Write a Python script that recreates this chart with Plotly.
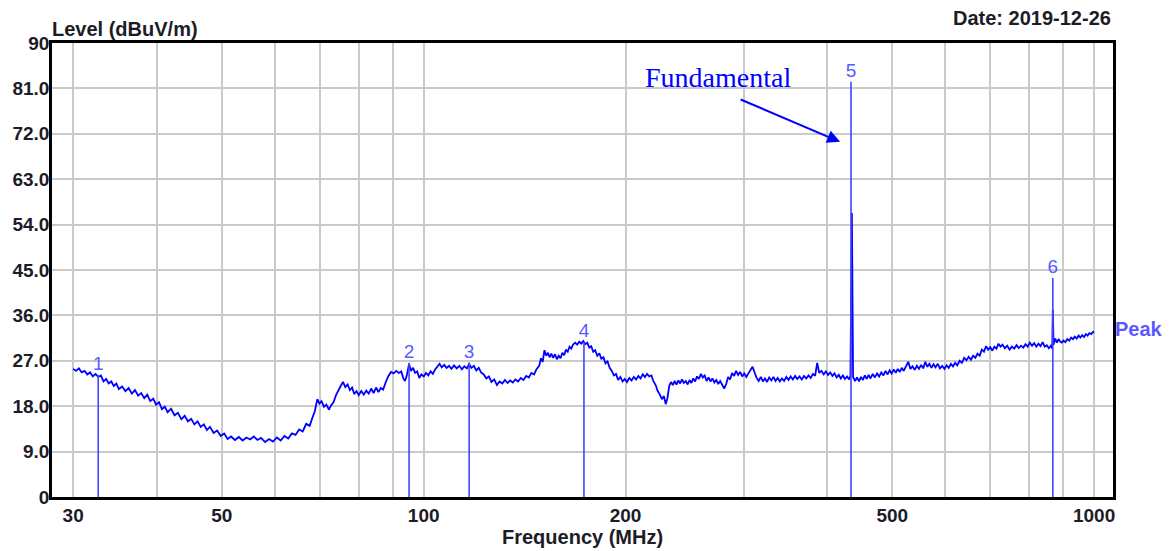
import math
import plotly.graph_objects as go

# ---------------- data ----------------
freq_mhz = [
    30.0, 30.3, 30.6, 30.9, 31.2, 31.5, 31.8, 32.1, 32.4, 32.7, 33.0, 33.3, 33.6, 33.9, 34.2, 34.5, 34.8, 35.1,
    35.5, 35.9, 36.3, 36.7, 37.1, 37.5, 37.9, 38.3, 38.7, 39.1, 39.5, 39.9, 40.3, 40.7, 41.1, 41.5, 42.0, 42.5,
    43.0, 43.5, 44.0, 44.5, 45.0, 45.5, 46.0, 46.5, 47.0, 47.5, 48.0, 48.6, 49.2, 49.8, 50.4, 51.0, 51.6, 52.3,
    53.0, 53.7, 54.4, 55.1, 55.8, 56.5, 57.2, 58.0, 58.8, 59.6, 60.4, 61.2, 62.0, 62.8, 63.6, 64.4, 65.2, 66.0,
    66.8, 67.6, 68.2, 68.8, 69.4, 69.9, 70.4, 71.0, 71.6, 72.2, 72.8, 73.4, 74.0, 74.6, 75.2, 75.8, 76.4, 77.0,
    77.6, 78.2, 78.8, 79.4, 80.0, 80.7, 81.4, 82.1, 82.8, 83.5, 84.2, 84.9, 85.6, 86.3, 87.0, 87.8, 88.6, 89.4,
    90.2, 91.0, 91.8, 92.6, 93.2, 93.8, 94.4, 95.1, 95.7, 96.4, 97.1, 97.8, 98.5, 99.2, 100.0, 100.8, 101.6, 102.4,
    103.2, 104.0, 104.8, 105.6, 106.4, 107.3, 108.2, 109.1, 110.0, 111.0, 112.0, 113.0, 114.0, 115.0, 116.0, 116.9,
    117.8, 118.8, 119.8, 120.8, 121.8, 122.9, 124.0, 125.1, 126.2, 127.4, 128.6, 129.8, 131.0, 132.2, 133.4, 134.6,
    135.8, 137.0, 138.3, 139.6, 140.9, 142.2, 143.5, 144.8, 146.1, 147.4, 148.7, 149.6, 150.5, 151.4, 152.3, 153.2,
    154.1, 155.0, 156.0, 157.0, 158.0, 159.0, 160.0, 161.0, 162.0, 163.0, 164.0, 165.0, 166.0, 167.0, 168.2, 169.4,
    170.6, 171.8, 173.0, 174.2, 175.4, 176.6, 177.8, 179.0, 180.2, 181.5, 182.8, 184.1, 185.4, 186.7, 188.0, 189.4,
    190.8, 192.2, 193.6, 195.0, 196.5, 198.0, 199.5, 201.0, 202.6, 204.2, 205.8, 207.4, 209.0, 210.6, 212.2, 213.8,
    215.4, 217.0, 218.6, 220.2, 221.8, 223.4, 225.0, 226.6, 228.2, 229.6, 231.0, 232.4, 233.8, 235.3, 236.8, 238.3,
    239.8, 241.3, 242.8, 244.4, 246.0, 247.6, 249.2, 250.8, 252.4, 254.0, 255.7, 257.4, 259.1, 260.8, 262.5, 264.2,
    266.0, 267.8, 269.6, 271.4, 273.2, 275.0, 276.9, 278.8, 280.7, 282.6, 284.5, 286.4, 288.4, 290.4, 292.4, 294.4,
    296.5, 298.6, 300.7, 302.8, 305.0, 307.2, 309.4, 311.6, 313.8, 316.0, 318.3, 320.6, 322.9, 325.2, 327.6, 330.0,
    332.4, 334.8, 337.3, 339.8, 342.3, 344.9, 347.5, 350.1, 352.7, 355.4, 358.1, 360.8, 363.6, 366.4, 369.2, 372.0,
    374.9, 377.8, 380.7, 383.6, 386.3, 389.0, 392.0, 395.0, 398.0, 401.0, 404.0, 407.0, 410.0, 413.0, 416.0, 419.0,
    422.0, 425.0, 428.0, 431.0, 433.0, 435.2, 437.0, 440.0, 443.0, 446.0, 449.0, 452.0, 455.0, 458.0, 461.0, 464.0,
    467.5, 471.0, 474.5, 478.0, 481.5, 485.0, 488.5, 492.0, 495.5, 499.0, 502.5, 506.0, 509.5, 513.0, 516.5, 520.0,
    524.0, 528.1, 532.0, 536.0, 540.0, 544.0, 548.0, 552.0, 556.0, 560.0, 564.0, 568.0, 572.0, 576.0, 580.0, 584.5,
    589.0, 593.5, 598.0, 602.5, 607.0, 611.5, 616.0, 620.5, 625.0, 630.0, 635.0, 640.0, 645.0, 650.0, 655.0, 660.0,
    665.0, 670.0, 675.0, 680.0, 685.0, 690.0, 695.0, 700.0, 705.0, 710.0, 715.0, 720.0, 725.0, 730.0, 736.0, 742.0,
    748.0, 754.0, 760.0, 766.0, 772.0, 778.0, 784.0, 790.0, 796.0, 802.0, 808.0, 814.0, 820.0, 826.0, 832.0, 838.0,
    844.0, 850.0, 856.0, 862.0, 866.0, 867.8, 870.0, 875.0, 880.0, 885.0, 890.0, 895.0, 900.0, 906.0, 912.0, 918.0,
    924.0, 930.0, 936.0, 942.0, 948.0, 954.0, 960.0, 966.0, 972.0, 978.0, 984.0, 990.0, 996.0, 1000.0,
]
level_dbuv = [
    25.4, 25.0, 25.5, 24.7, 25.0, 24.3, 24.7, 23.9, 24.4, 23.8, 24.1, 22.9, 23.4, 22.5, 22.9, 22.0, 22.5, 21.4,
    21.9, 21.0, 21.6, 20.5, 21.2, 20.1, 20.6, 19.6, 20.3, 19.0, 19.5, 18.3, 18.8, 17.4, 17.9, 16.8, 17.5, 16.2,
    16.7, 15.4, 16.1, 15.0, 15.5, 14.4, 15.0, 13.9, 14.4, 13.3, 13.9, 12.7, 13.2, 12.1, 12.6, 11.5, 12.0, 11.3,
    11.9, 11.2, 11.8, 11.4, 12.0, 11.3, 11.7, 10.9, 11.5, 11.0, 11.8, 11.2, 12.1, 11.6, 12.6, 12.3, 13.4, 13.0,
    14.5, 14.1, 15.6, 17.0, 19.4, 18.5, 19.0, 17.9, 18.3, 17.3, 18.2, 18.8, 20.2, 21.2, 22.0, 22.8, 21.8, 22.3,
    21.2, 21.7, 20.4, 21.0, 20.2, 21.0, 20.3, 21.1, 20.5, 21.5, 20.6, 21.7, 20.8, 21.6, 21.3, 22.8, 24.0, 24.8,
    24.5, 25.0, 24.6, 24.9, 23.6, 23.0, 24.2, 26.4, 25.0, 25.6, 24.6, 24.9, 23.6, 24.3, 23.9, 24.6, 24.1, 24.9,
    24.4, 25.3, 25.8, 26.4, 25.7, 26.2, 25.6, 26.0, 25.4, 26.1, 25.5, 26.0, 25.3, 25.9, 25.5, 26.4,
    25.6, 26.0, 25.1, 25.6, 24.7, 24.3, 23.5, 23.9, 22.8, 23.3, 22.2, 22.9, 22.5, 23.2, 22.6, 23.1,
    22.7, 23.3, 22.9, 23.6, 23.2, 24.0, 23.7, 24.6, 24.3, 25.4, 26.0, 27.5, 26.8, 29.1, 28.0, 28.6,
    27.7, 28.4, 27.6, 28.3, 27.3, 28.0, 27.5, 28.6, 28.1, 29.2, 28.8, 29.8, 29.4, 30.2, 30.6, 30.2,
    30.8, 30.4, 30.9, 30.3, 30.6, 29.6, 29.9, 28.8, 29.1, 28.0, 28.5, 27.4, 27.7, 26.5, 26.9, 25.6,
    25.0, 24.1, 24.4, 23.2, 23.8, 22.9, 23.4, 22.8, 23.6, 23.1, 23.8, 23.3, 24.0, 23.5, 24.3, 23.8,
    24.4, 23.9, 24.1, 22.9, 22.2, 21.0, 20.3, 19.4, 20.0, 18.4, 19.6, 22.0, 22.8, 22.2, 23.0, 22.3,
    23.1, 22.5, 23.3, 22.6, 23.0, 22.3, 23.2, 22.6, 23.5, 22.9, 23.9, 23.4, 24.4, 23.7, 24.1, 23.0,
    23.7, 22.9, 23.5, 22.7, 23.2, 22.4, 23.0, 22.1, 21.5, 22.4, 23.8, 23.3, 24.6, 24.0, 25.0, 24.2,
    24.8, 23.9, 24.5, 23.8, 24.6, 25.2, 25.8, 24.6, 23.6, 23.0, 23.8, 22.9, 23.5, 22.8, 23.7, 23.1,
    23.8, 23.0, 23.6, 22.9, 23.5, 23.0, 23.8, 23.2, 23.9, 23.3, 24.0, 23.4, 23.9, 23.3, 24.0, 23.5,
    24.1, 23.6, 24.4, 24.0, 26.6, 24.6, 25.0, 24.3, 24.9, 24.2, 24.7, 24.0, 24.5, 23.7, 24.2, 23.5,
    24.1, 23.4, 23.9, 23.3, 24.0, 56.3, 23.8, 23.0, 23.7, 22.9, 23.8, 23.2, 24.1, 23.4, 24.2, 23.5,
    24.4, 23.7, 24.5, 23.9, 24.7, 24.1, 25.0, 24.3, 25.1, 24.5, 25.3, 24.6, 25.4, 24.8, 25.6, 25.0,
    25.9, 26.8, 25.4, 25.9, 25.2, 26.0, 25.4, 26.2, 25.5, 26.8, 25.8, 26.4, 25.6, 26.3, 25.7, 26.4,
    25.5, 26.0, 25.4, 26.1, 25.6, 26.4, 25.9, 26.6, 26.1, 27.0, 26.6, 27.6, 27.1, 27.8, 27.2, 28.0,
    27.6, 28.4, 28.0, 29.2, 28.8, 29.9, 29.2, 29.7, 29.0, 29.8, 29.4, 30.4, 29.8, 30.2, 29.5, 30.0,
    29.2, 29.8, 29.4, 30.1, 29.5, 30.0, 29.6, 30.3, 29.8, 30.6, 30.0, 30.5, 29.8, 30.4, 29.9, 30.7,
    29.8, 30.1, 29.5, 30.0, 29.4, 37.1, 30.2, 31.4, 30.6, 31.3, 30.8, 30.6, 31.0, 30.7, 31.3, 31.0,
    31.6, 31.3, 31.8, 31.4, 32.0, 31.6, 32.1, 31.7, 32.3, 32.0, 32.5, 32.3, 32.7, 32.8,
]

marker_labels = ["1", "2", "3", "4", "5", "6"]
marker_freq = [32.7, 95.1, 116.9, 173.4, 433.9, 867.8]
marker_level = [24.2, 26.6, 26.7, 30.8, 82.3, 43.4]

y_tick_vals = [0, 9, 18, 27, 36, 45, 54, 63, 72, 81, 90]
y_tick_text = ["0", "9.0", "18.0", "27.0", "36.0", "45.0", "54.0", "63.0", "72.0", "81.0", "90"]
x_grid_vals = [30, 40, 50, 60, 70, 80, 90, 100, 200, 300, 400, 500, 600, 700, 800, 900, 1000]
x_label_vals = [30, 50, 100, 200, 500, 1000]

x_min_mhz = 27.9
x_max_mhz = 1067.0
y_min, y_max = 0, 90

fundamental_freq = 418.0
fundamental_level = 70.4
fundamental_text_freq = 275.0
fundamental_text_level = 83.1
peak_label_level = 33.3

# ---------------- figure ----------------
FONT_FAMILY = "Liberation Sans, Arial, sans-serif"
TEXT_DARK = "#1c1c28"
TICK_FONT = dict(family=FONT_FAMILY, size=19, color=TEXT_DARK, weight="bold")
TRACE_BLUE = "#0000ff"
MARKER_BLUE = "#4444ff"
LABEL_BLUE = "#5a5aff"

fig = go.Figure()

fig.add_trace(go.Scatter(
    x=freq_mhz, y=level_dbuv, mode="lines",
    line=dict(color=TRACE_BLUE, width=1.8),
    hoverinfo="skip", showlegend=False,
))

mx, my = [], []
for f, v in zip(marker_freq, marker_level):
    mx += [f, f, None]
    my += [0, v, None]
fig.add_trace(go.Scatter(
    x=mx, y=my, mode="lines",
    line=dict(color=MARKER_BLUE, width=1.6),
    hoverinfo="skip", showlegend=False,
))

fig.add_trace(go.Scatter(
    x=marker_freq, y=marker_level, mode="text",
    text=marker_labels, textposition="top center",
    textfont=dict(family=FONT_FAMILY, size=19, color=LABEL_BLUE),
    hoverinfo="skip", showlegend=False,
))

ticktext_x = [str(v) if v in x_label_vals else "" for v in x_grid_vals]

fig.update_xaxes(
    type="log",
    range=[math.log10(x_min_mhz), math.log10(x_max_mhz)],
    tickmode="array", tickvals=x_grid_vals, ticktext=ticktext_x,
    showgrid=True, gridcolor="#cacaca", gridwidth=1.5,
    showline=True, linecolor="black", linewidth=2.5, mirror=True,
    ticks="", ticklen=0, ticklabelstandoff=-1, automargin=False,
    tickfont=TICK_FONT, zeroline=False,
)
fig.update_yaxes(
    range=[y_min, y_max],
    tickmode="array", tickvals=y_tick_vals, ticktext=y_tick_text,
    showgrid=True, gridcolor="#cacaca", gridwidth=1.5,
    showline=True, linecolor="black", linewidth=2.5, mirror=True,
    ticks="", ticklen=0, ticklabelstandoff=-4, automargin=False,
    tickfont=TICK_FONT, zeroline=False,
)

title_font = dict(family=FONT_FAMILY, size=20, color=TEXT_DARK, weight="bold")

annotations = [
    dict(text="Level (dBuV/m)", xref="paper", yref="paper", x=0, y=1,
         xanchor="left", yanchor="bottom", yshift=1, xshift=-2, showarrow=False, font=title_font),
    dict(text="Frequency (MHz)", xref="paper", yref="paper", x=0.5, y=0,
         xanchor="center", yanchor="middle", yshift=-40, showarrow=False, font=title_font),
    dict(text="Date: 2019-12-26", xref="paper", yref="paper", x=1, y=1,
         xanchor="right", yanchor="middle", yshift=25, showarrow=False, font=title_font),
    dict(text="Peak", xref="paper", yref="y", x=1, y=peak_label_level,
         xanchor="left", yanchor="middle", xshift=0, showarrow=False,
         font=dict(family=FONT_FAMILY, size=20, color=LABEL_BLUE, weight="bold")),
    dict(text="", x=math.log10(fundamental_freq), y=fundamental_level,
         xref="x", yref="y", showarrow=True, ax=-101, ay=-43,
         arrowhead=2, arrowsize=1.3, arrowwidth=2, arrowcolor=TRACE_BLUE),
    dict(text="Fundamental", x=math.log10(fundamental_text_freq), y=fundamental_text_level,
         xref="x", yref="y", xanchor="center", yanchor="middle", showarrow=False,
         font=dict(family="Liberation Serif, Times New Roman, serif", size=28, color=TRACE_BLUE)),
]

# the page adds an 8px body margin; the figure is sized and offset to compensate
fig.update_layout(
    width=1163, height=543,
    margin=dict(l=44, r=58, t=35, b=54, autoexpand=False),
    paper_bgcolor="white", plot_bgcolor="white",
    annotations=annotations,
    showlegend=False,
)

fig.write_html("out.html", config={"displayModeBar": False})
